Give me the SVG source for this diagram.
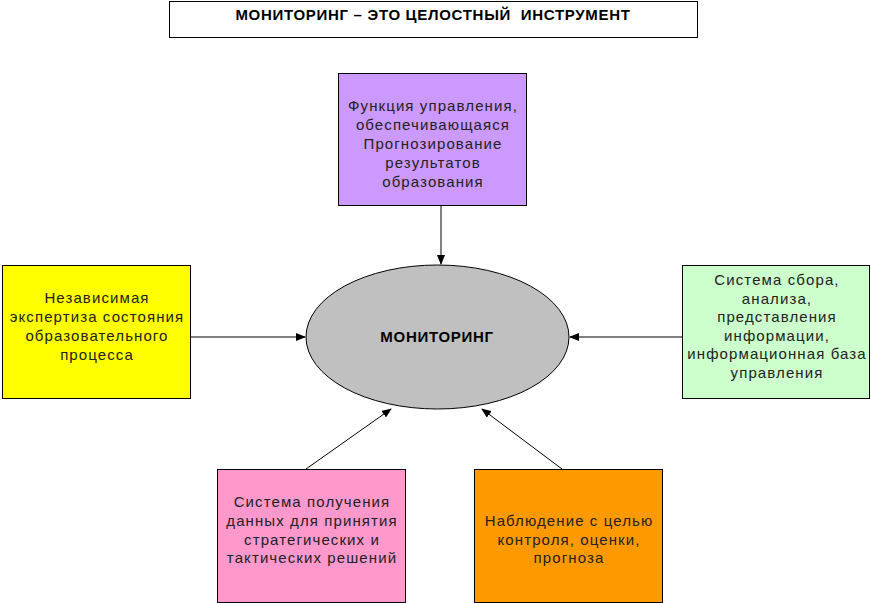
<svg xmlns="http://www.w3.org/2000/svg" width="871" height="603" viewBox="0 0 871 603">
<style>
.box{stroke:#000;stroke-width:1}
.t{font-family:"Liberation Sans",Arial,sans-serif;font-size:15px;letter-spacing:1.1px;fill:#222;text-anchor:middle}
.b{font-family:"Liberation Sans",Arial,sans-serif;font-size:15px;letter-spacing:0.7px;font-weight:bold;fill:#000;text-anchor:middle}
.c{stroke:#000;stroke-width:1;fill:none;marker-end:url(#ah)}
</style>
<defs>
<marker id="ah" markerWidth="10" markerHeight="8" refX="9" refY="4" orient="auto" markerUnits="userSpaceOnUse">
<path d="M0,0 L10,4 L0,8 Z" fill="#000"/>
</marker>
</defs>
<rect width="871" height="603" fill="#fff"/>
<g id="title">
<rect class="box" x="169.5" y="1.5" width="528" height="36" fill="#fff"/>
<text class="b" x="433" y="20" style="white-space:pre">МОНИТОРИНГ – ЭТО ЦЕЛОСТНЫЙ  ИНСТРУМЕНТ</text>
</g>
<g id="connectors">
<line class="c" x1="441" y1="205" x2="441" y2="264"/>
<line class="c" x1="190" y1="337" x2="305" y2="337"/>
<line class="c" x1="682" y1="337" x2="570" y2="337"/>
<line class="c" x1="306" y1="469" x2="391" y2="409"/>
<line class="c" x1="562" y1="469" x2="482" y2="409"/>
</g>
<g id="monitoring">
<ellipse cx="437.5" cy="337" rx="131.5" ry="72" fill="#c0c0c0" stroke="#000"/>
<text class="b" x="437" y="342">МОНИТОРИНГ</text>
</g>
<g id="function">
<rect class="box" x="338.5" y="73.5" width="188" height="132" fill="#cc99ff"/>
<text class="t" x="433" y="111">Функция управления,</text>
<text class="t" x="433" y="130">обеспечивающаяся</text>
<text class="t" x="433" y="149">Прогнозирование</text>
<text class="t" x="433" y="168">результатов</text>
<text class="t" x="433" y="187">образования</text>
</g>
<g id="expertise">
<rect class="box" x="2.5" y="265.5" width="188" height="133" fill="#ffff00"/>
<text class="t" x="97" y="303">Независимая</text>
<text class="t" x="97" y="322">экспертиза состояния</text>
<text class="t" x="97" y="341">образовательного</text>
<text class="t" x="97" y="360">процесса</text>
</g>
<g id="system">
<rect class="box" x="682.5" y="265.5" width="187" height="133" fill="#ccffcc"/>
<text class="t" x="777" y="285">Система сбора,</text>
<text class="t" x="777" y="304">анализа,</text>
<text class="t" x="777" y="322">представления</text>
<text class="t" x="777" y="341">информации,</text>
<text class="t" x="777" y="359">информационная база</text>
<text class="t" x="777" y="378">управления</text>
</g>
<g id="data">
<rect class="box" x="217.5" y="469.5" width="188" height="133" fill="#ff99cc"/>
<text class="t" x="312" y="507">Система получения</text>
<text class="t" x="312" y="526">данных для принятия</text>
<text class="t" x="312" y="545">стратегических и</text>
<text class="t" x="312" y="563">тактических решений</text>
</g>
<g id="observation">
<rect class="box" x="474.5" y="469.5" width="188" height="133" fill="#ff9900"/>
<text class="t" x="569" y="526">Наблюдение с целью</text>
<text class="t" x="569" y="545">контроля, оценки,</text>
<text class="t" x="569" y="563">прогноза</text>
</g>
</svg>
